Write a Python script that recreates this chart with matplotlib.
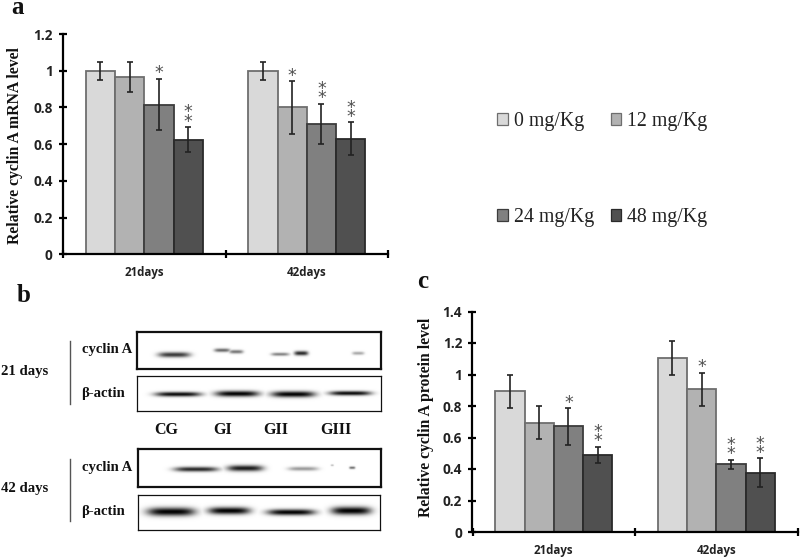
import numpy as np
import matplotlib
matplotlib.use('Agg')
import matplotlib.pyplot as plt

W, H = 800, 557

doses = ['0 mg/Kg', '12 mg/Kg', '24 mg/Kg', '48 mg/Kg']
days = ['21days', '42days']
colors = ['#d9d9d9', '#b2b2b2', '#808080', '#505050']
edges = ['#6e6e6e', '#6e6e6e', '#3c3c3c', '#2a2a2a']

# panel a: one row per dose, one value per time point
mrna = [[1.0, 1.0], [0.965, 0.80], [0.815, 0.71], [0.625, 0.63]]
mrna_err = [[0.05, 0.05], [0.08, 0.143], [0.14, 0.11], [0.068, 0.09]]
mrna_stars = [[0, 0], [0, 1], [1, 2], [2, 2]]

# panel c
protein = [[0.895, 1.105], [0.695, 0.905], [0.67, 0.43], [0.49, 0.375]]
protein_err = [[0.105, 0.105], [0.105, 0.105], [0.115, 0.03], [0.052, 0.092]]
protein_stars = [[0, 0], [0, 1], [1, 2], [2, 2]]

# panel b: bands as (x centre, y centre, half width, half height, darkness), picture pixels
bands_21_cyclin = [(174, 354.5, 16, 2.6, 0.78), (222, 350, 8, 1.8, 0.6), (236, 351.5, 7, 1.8, 0.55),
                   (280, 354, 9, 1.6, 0.5), (301, 353, 7, 2.2, 0.85), (358, 353, 6, 1.6, 0.35)]
bands_21_actin = [(178, 394, 23, 2.3, 0.97), (237, 393.5, 22, 2.9, 1.0),
                  (293, 394, 22, 3.0, 1.0), (350, 393, 21, 2.2, 0.97)]
bands_42_cyclin = [(196, 469, 22, 2.4, 0.85), (245, 468, 18, 3.0, 0.9),
                   (303, 468.5, 15, 2.0, 0.4), (352, 467.5, 3, 1.2, 0.6), (332, 465, 1.5, 0.8, 0.3)]
bands_42_actin = [(171, 511.5, 24, 4.2, 1.0), (229, 510.5, 21, 3.6, 1.0),
                  (291, 512, 24, 3.0, 1.0), (351, 510.5, 20, 4.0, 1.0)]

lane_names = ['CG', 'GI', 'GII', 'GIII']

plt.rcParams['font.family'] = ['Liberation Serif', 'DejaVu Sans']

fig = plt.figure(figsize=(W / 100, H / 100), dpi=100)


def px_axes(left, top, right, bottom):
    return fig.add_axes([left / W, 1 - bottom / H, (right - left) / W, (bottom - top) / H])


def px_text(x, y, s, **kw):
    kw.setdefault('va', 'center')
    kw.setdefault('color', '#111111')
    fig.text(x / W, 1 - y / H, s, **kw)


def bar_panel(box, values, errors, stars, ymax, step, ylabel, ylabel_xy, ticklabels):
    ax = px_axes(*box)
    bar_w = 0.18
    for i in range(4):
        x = np.arange(2) + (i - 1.5) * bar_w
        ax.bar(x, values[i], bar_w, color=colors[i], edgecolor=edges[i], linewidth=1.3, zorder=2)
        ax.errorbar(x, values[i], yerr=errors[i], fmt='none', ecolor='#222222',
                    elinewidth=1.2, capsize=2.4, capthick=1.2, zorder=3)
        for j in range(2):
            top = values[i][j] + errors[i][j]
            for k in range(stars[i][j]):
                ax.annotate('*', (x[j], top), xytext=(0, 5.5 + 6.5 * k), textcoords='offset points',
                            ha='center', va='center_baseline', fontsize=12.5, color='#505050',
                            family='DejaVu Sans', zorder=4)
    ax.set_xlim(-0.5, 1.5)
    ax.set_ylim(0, ymax)
    ax.set_yticks(np.arange(0, ymax + step / 2, step))
    ax.set_yticklabels(ticklabels, family='Open Sans', fontweight='bold', fontsize=9.8, color='#222222')
    ax.set_xticks([-0.5, 0.5, 1.5])
    ax.set_xticklabels([])
    ax.set_xticks([0, 1], minor=True)
    ax.set_xticklabels(days, minor=True, family='Open Sans', fontweight='bold', fontsize=8.3, color='#222222')
    ax.tick_params(axis='x', which='minor', length=0, pad=8.5)
    ax.tick_params(axis='both', which='major', direction='inout', length=6, width=1.6, pad=4.5)
    for side in ['top', 'right']:
        ax.spines[side].set_visible(False)
    for side in ['left', 'bottom']:
        ax.spines[side].set_linewidth(1.6)
    ax.patch.set_alpha(0)
    px_text(ylabel_xy[0], ylabel_xy[1], ylabel, rotation=90, ha='center',
            fontweight='bold', fontsize=11.3)
    return ax


bar_panel((63, 34, 388, 254.5), mrna, mrna_err, mrna_stars, 1.2, 0.2,
          'Relative cyclin A mRNA level', (15, 146), ['0', '0.2', '0.4', '0.6', '0.8', '1', '1.2'])
bar_panel((472.5, 311.5, 797.5, 532), protein, protein_err, protein_stars, 1.4, 0.2,
          'Relative cyclin A protein level', (426, 417), ['0', '0.2', '0.4', '0.6', '0.8', '1', '1.2', '1.4'])


def blot(box, bands, frame_lw):
    left, top, right, bottom = box
    ax = px_axes(left, top, right, bottom)
    xx, yy = np.meshgrid(np.arange(left, right, 0.5), np.arange(top, bottom, 0.5))
    dark = np.zeros_like(xx)
    for cx, cy, hw, hh, d in bands:
        dark = np.maximum(dark, d * np.exp(-((xx - cx) / hw) ** 4 - ((yy - cy) / hh) ** 2))
    ax.imshow(1 - dark, cmap='gray', vmin=0, vmax=1, extent=(left, right, bottom, top),
              aspect='auto', interpolation='bilinear')
    ax.set_xticks([])
    ax.set_yticks([])
    for s in ax.spines.values():
        s.set_linewidth(frame_lw)
        s.set_color('#111111')


blot((137, 332, 381, 369), bands_21_cyclin, 1.6)
blot((137, 376, 381, 411), bands_21_actin, 0.9)
blot((138, 449, 381, 487), bands_42_cyclin, 1.6)
blot((138, 495, 380, 530), bands_42_actin, 0.9)

label_kw = dict(fontweight='bold', fontsize=10.6)
px_text(82, 349.5, 'cyclin A', **label_kw)
px_text(81, 393.5, 'β-actin', **label_kw)
px_text(82, 467, 'cyclin A', **label_kw)
px_text(81, 511, 'β-actin', **label_kw)
px_text(1, 371, '21 days', **label_kw)
px_text(1, 488.5, '42 days', **label_kw)
for name, x in zip(lane_names, [166, 223, 276, 336]):
    px_text(x, 430, name, ha='center', fontweight='bold', fontsize=11.5)
for y0, y1 in [(341, 404), (459, 521)]:
    fig.add_artist(plt.Line2D([70 / W, 70 / W], [1 - y0 / H, 1 - y1 / H], color='#555555', lw=1))

px_text(11, 14, 'a', va='baseline', fontweight='bold', fontsize=18)
px_text(17, 302, 'b', va='baseline', fontweight='bold', fontsize=18)
px_text(417, 288, 'c', va='baseline', fontweight='bold', fontsize=18)

# legend: column-first order gives the 0/12 over 24/48 layout
handles = [plt.Rectangle((0, 0), 1, 1, facecolor=colors[i], edgecolor=edges[i], linewidth=0.9) for i in range(4)]
order = [0, 2, 1, 3]
fig.legend([handles[i] for i in order], [doses[i] for i in order], ncol=2, frameon=False,
           loc='center left', bbox_to_anchor=(497.5 / W, 1 - 169.5 / H), fontsize=14.3,
           handlelength=0.55, handleheight=0.55, handletextpad=0.3, columnspacing=0.8,
           labelspacing=3.85, borderpad=0, borderaxespad=0, labelcolor='#222222')

fig.savefig('out.png', dpi=100)
